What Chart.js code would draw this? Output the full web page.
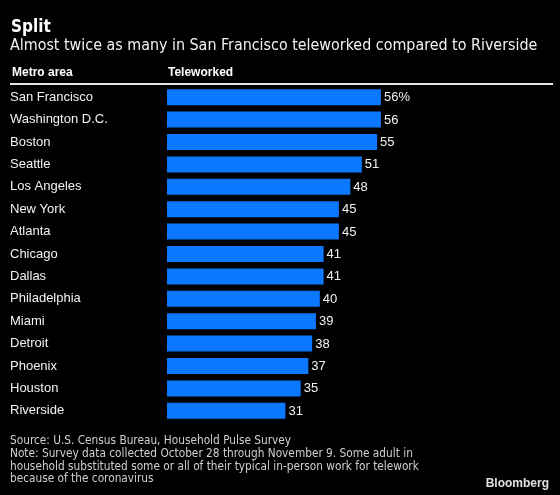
<!DOCTYPE html>
<html>
<head>
<meta charset="utf-8">
<script src="https://cdn.jsdelivr.net/npm/chart.js@4.4.1/dist/chart.umd.min.js"></script>
<style>
  html, body { margin: 0; padding: 0; background: #000; }
  #wrap { position: relative; width: 560px; height: 495px; overflow: hidden; background: #000; }
  canvas { position: absolute; left: 0; top: 0; }
  .t { position: absolute; white-space: nowrap; color: #fff; }
  .cond { font-family: "DejaVu Sans Condensed", "DejaVu Sans"; font-stretch: condensed; }
  #title { left: 11px; top: 17.6px; font-size: 17px; line-height: 17px; font-weight: bold; }
  #subtitle { left: 10px; top: 36.5px; font-size: 15.9px; line-height: 16px; color: #f2f2f2; }
  .hdr { font-family: "Liberation Sans", Arial, sans-serif; font-weight: bold; font-size: 12px; line-height: 12px; top: 65.8px; }
  #rule { position: absolute; left: 10px; top: 83px; width: 543px; height: 2px; background: #e6e6e6; }
  #footer { left: 10px; top: 434px; font-size: 11.75px; line-height: 12.8px; color: #cfcfcf; white-space: pre; }
  #brand { right: 11px; top: 477px; font-family: "Liberation Sans", Arial, sans-serif; font-weight: bold; font-size: 12px; line-height: 12px; color: #e0e0e0; }
</style>
</head>
<body>
<div id="wrap">
  <canvas id="c" width="560" height="495"></canvas>
  <div class="t cond" id="title">Split</div>
  <div class="t cond" id="subtitle">Almost twice as many in San Francisco teleworked compared to Riverside</div>
  <div class="t hdr" style="left:12px;">Metro area</div>
  <div class="t hdr" style="left:168px;">Teleworked</div>
  <div id="rule"></div>
  <div class="t cond" id="footer">Source: U.S. Census Bureau, Household Pulse Survey
Note: Survey data collected October 28 through November 9. Some adult in
household substituted some or all of their typical in-person work for telework
because of the coronavirus</div>
  <div class="t" id="brand">Bloomberg</div>
</div>
<script>
const categories = ["San Francisco", "Washington D.C.", "Boston", "Seattle", "Los Angeles", "New York", "Atlanta", "Chicago", "Dallas", "Philadelphia", "Miami", "Detroit", "Phoenix", "Houston", "Riverside"];
const teleworked = [56, 56, 55, 51, 48, 45, 45, 41, 41, 40, 39, 38, 37, 35, 31];
const valueLabels = ["56%", "56", "55", "51", "48", "45", "45", "41", "41", "40", "39", "38", "37", "35", "31"];

const valueLabelPlugin = {
  id: 'valueLabels',
  afterDatasetsDraw(chart) {
    const ctx = chart.ctx;
    const meta = chart.getDatasetMeta(0);
    ctx.save();
    ctx.font = '13px "Liberation Sans", Arial, sans-serif';
    ctx.fillStyle = '#f2f2f2';
    ctx.textAlign = 'left';
    ctx.textBaseline = 'middle';
    meta.data.forEach((bar, i) => {
      ctx.fillText(valueLabels[i], bar.x + 3, bar.y + 0.5);
    });
    ctx.restore();
  }
};

new Chart(document.getElementById('c'), {
  type: 'bar',
  data: {
    labels: categories,
    datasets: [{
      data: teleworked,
      backgroundColor: '#0c78ff',
      borderWidth: 0,
      barPercentage: 0.714,
      categoryPercentage: 1.0
    }]
  },
  plugins: [valueLabelPlugin],
  options: {
    indexAxis: 'y',
    responsive: false,
    animation: false,
    devicePixelRatio: 1,
    layout: { padding: { top: 86, bottom: 73, left: 10, right: 11 } },
    plugins: { legend: { display: false }, tooltip: { enabled: false }, title: { display: false } },
    scales: {
      x: { display: false, min: 0, max: 100 },
      y: {
        grid: { display: false },
        border: { display: false },
        afterFit(scale) { scale.width = 157; },
        ticks: {
          crossAlign: 'far',
          padding: 0,
          color: '#f2f2f2',
          font: { family: '"Liberation Sans", Arial, sans-serif', size: 13 }
        }
      }
    }
  }
});
</script>
</body>
</html>
